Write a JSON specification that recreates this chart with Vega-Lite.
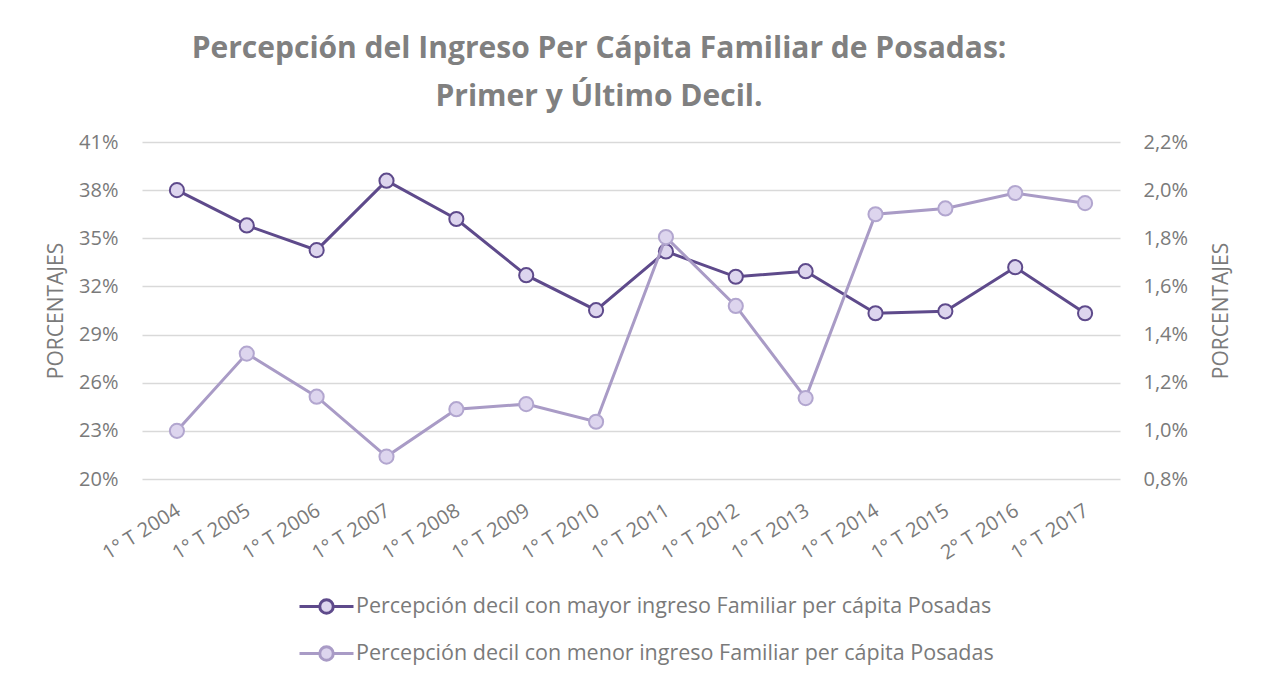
{
  "$schema": "https://vega.github.io/schema/vega-lite/v6.json",
  "width": 978,
  "height": 337,
  "autosize": {"type": "none"},
  "padding": {"left": 142, "top": 142, "right": 143, "bottom": 202},
  "background": "white",
  "config": {
    "font": "Open Sans",
    "view": {"stroke": null},
    "axis": {"labelFont": "Open Sans", "labelColor": "#7a7a7a", "labelFontSize": 20, "titleFont": "Open Sans", "titleColor": "#7a7a7a", "titleFontSize": 21, "titleFontWeight": "normal", "domain": false, "ticks": false}
  },
  "title": {
    "text": ["Percepción del Ingreso Per Cápita Familiar de Posadas:", "Primer y Último Decil."],
    "font": "Open Sans",
    "fontSize": 30,
    "fontWeight": "bold",
    "color": "#808080",
    "anchor": "middle",
    "dx": -32,
    "lineHeight": 48,
    "offset": 20
  },
  "datasets": {
    "alto": [
      {"t": "1° T 2004", "serie": "Percepción decil con mayor ingreso Familiar per cápita  Posadas", "v": 38.0},
      {"t": "1° T 2005", "serie": "Percepción decil con mayor ingreso Familiar per cápita  Posadas", "v": 35.8},
      {"t": "1° T 2006", "serie": "Percepción decil con mayor ingreso Familiar per cápita  Posadas", "v": 34.26},
      {"t": "1° T 2007", "serie": "Percepción decil con mayor ingreso Familiar per cápita  Posadas", "v": 38.59},
      {"t": "1° T 2008", "serie": "Percepción decil con mayor ingreso Familiar per cápita  Posadas", "v": 36.2},
      {"t": "1° T 2009", "serie": "Percepción decil con mayor ingreso Familiar per cápita  Posadas", "v": 32.7},
      {"t": "1° T 2010", "serie": "Percepción decil con mayor ingreso Familiar per cápita  Posadas", "v": 30.52},
      {"t": "1° T 2011", "serie": "Percepción decil con mayor ingreso Familiar per cápita  Posadas", "v": 34.18},
      {"t": "1° T 2012", "serie": "Percepción decil con mayor ingreso Familiar per cápita  Posadas", "v": 32.6},
      {"t": "1° T 2013", "serie": "Percepción decil con mayor ingreso Familiar per cápita  Posadas", "v": 32.95},
      {"t": "1° T 2014", "serie": "Percepción decil con mayor ingreso Familiar per cápita  Posadas", "v": 30.33},
      {"t": "1° T 2015", "serie": "Percepción decil con mayor ingreso Familiar per cápita  Posadas", "v": 30.45},
      {"t": "2° T 2016", "serie": "Percepción decil con mayor ingreso Familiar per cápita  Posadas", "v": 33.2},
      {"t": "1° T 2017", "serie": "Percepción decil con mayor ingreso Familiar per cápita  Posadas", "v": 30.33}
    ],
    "bajo": [
      {"t": "1° T 2004", "serie": "Percepción decil con menor ingreso Familiar per cápita Posadas", "v": 1.0},
      {"t": "1° T 2005", "serie": "Percepción decil con menor ingreso Familiar per cápita Posadas", "v": 1.321},
      {"t": "1° T 2006", "serie": "Percepción decil con menor ingreso Familiar per cápita Posadas", "v": 1.142},
      {"t": "1° T 2007", "serie": "Percepción decil con menor ingreso Familiar per cápita Posadas", "v": 0.893},
      {"t": "1° T 2008", "serie": "Percepción decil con menor ingreso Familiar per cápita Posadas", "v": 1.09},
      {"t": "1° T 2009", "serie": "Percepción decil con menor ingreso Familiar per cápita Posadas", "v": 1.111},
      {"t": "1° T 2010", "serie": "Percepción decil con menor ingreso Familiar per cápita Posadas", "v": 1.038},
      {"t": "1° T 2011", "serie": "Percepción decil con menor ingreso Familiar per cápita Posadas", "v": 1.805},
      {"t": "1° T 2012", "serie": "Percepción decil con menor ingreso Familiar per cápita Posadas", "v": 1.519},
      {"t": "1° T 2013", "serie": "Percepción decil con menor ingreso Familiar per cápita Posadas", "v": 1.136},
      {"t": "1° T 2014", "serie": "Percepción decil con menor ingreso Familiar per cápita Posadas", "v": 1.9},
      {"t": "1° T 2015", "serie": "Percepción decil con menor ingreso Familiar per cápita Posadas", "v": 1.924},
      {"t": "2° T 2016", "serie": "Percepción decil con menor ingreso Familiar per cápita Posadas", "v": 1.988},
      {"t": "1° T 2017", "serie": "Percepción decil con menor ingreso Familiar per cápita Posadas", "v": 1.946}
    ]
  },
  "encoding": {
    "x": {
      "field": "t",
      "type": "ordinal",
      "sort": null,
      "scale": {"type": "point", "padding": 0.5},
      "axis": {"title": null, "labelAngle": -32, "labelPadding": 21, "labelOffset": -4, "grid": false}
    }
  },
  "layer": [
    {
      "data": {"name": "alto"},
      "encoding": {
        "y": {
          "field": "v",
          "type": "quantitative",
          "scale": {"domain": [20, 41], "nice": false, "zero": false},
          "axis": {
            "orient": "left",
            "title": "PORCENTAJES",
            "values": [20, 23, 26, 29, 32, 35, 38, 41],
            "labelExpr": "format(datum.value, '.0f') + '%'",
            "labelPadding": 24,
            "titlePadding": 12,
            "grid": true,
            "gridColor": "#d9d9d9",
            "gridWidth": 1.5
          }
        }
      },
      "layer": [
        {
          "mark": {"type": "line", "strokeWidth": 3},
          "encoding": {
            "color": {
              "field": "serie",
              "type": "nominal",
              "scale": {
                "domain": ["Percepción decil con mayor ingreso Familiar per cápita  Posadas", "Percepción decil con menor ingreso Familiar per cápita Posadas"],
                "range": ["#5e4a8b", "#a99bc6"]
              },
              "legend": {
                "title": null,
                "orient": "none",
                "legendX": 156,
                "legendY": 436,
                "direction": "vertical",
                "padding": 0,
                "symbolType": "M-1,0H-0.25M0.25,0H1M-0.25,0A0.25,0.25,0,1,1,0.25,0A0.25,0.25,0,1,1,-0.25,0Z",
                "symbolSize": 2916,
                "symbolStrokeWidth": 3,
                "labelFont": "Open Sans",
                "labelFontSize": 21.5,
                "labelColor": "#7a7a7a",
                "labelLimit": 900,
                "labelOffset": 1,
                "rowPadding": 5,
                "encode": {"symbols": {"update": {"fill": {"value": "#ddd5ee"}, "strokeWidth": {"value": 3}}}}
              }
            }
          }
        },
        {
          "mark": {"type": "point", "filled": true, "size": 200, "fill": "#ddd5ee", "stroke": "#5e4a8b", "strokeWidth": 2, "opacity": 1}
        }
      ]
    },
    {
      "data": {"name": "bajo"},
      "encoding": {
        "y": {
          "field": "v",
          "type": "quantitative",
          "scale": {"domain": [0.8, 2.2], "nice": false, "zero": false},
          "axis": {
            "orient": "right",
            "title": "PORCENTAJES",
            "titleAngle": 270,
            "titleBaseline": "top",
            "values": [0.8, 1.0, 1.2, 1.4, 1.6, 1.8, 2.0, 2.2],
            "labelExpr": "replace(format(datum.value, '.1f'), '.', ',') + '%'",
            "labelPadding": 23,
            "titlePadding": 23,
            "grid": false
          }
        }
      },
      "layer": [
        {
          "mark": {"type": "line", "strokeWidth": 3},
          "encoding": {
            "color": {"field": "serie", "type": "nominal"}
          }
        },
        {
          "mark": {"type": "point", "filled": true, "size": 200, "fill": "#ddd5ee", "stroke": "#b2a6cf", "strokeWidth": 2, "opacity": 1}
        }
      ]
    }
  ],
  "resolve": {"scale": {"y": "independent"}}
}
